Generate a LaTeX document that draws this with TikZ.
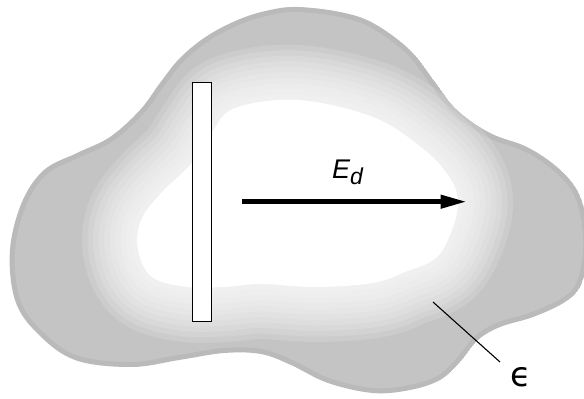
\documentclass[tikz,border=0pt]{standalone}
\usepackage{fontspec}
\newfontfamily\labfont{Liberation Sans}
\newfontfamily\symfont{DejaVu Sans}
\usetikzlibrary{arrows.meta}
\begin{document}
\begin{tikzpicture}[x=1pt,y=-1pt,
  cloudout/.style={insert path={plot[smooth cycle,tension=0.6] coordinates {
    (298,7) (340,12) (373,23) (410,50) (435,82) (457,110) (490,133) (527,147) (557,167)
    (577,190) (586,218) (588,252) (581,285) (565,302) (533,317) (500,327) (478,340)
    (460,362) (440,380) (410,390) (373,393) (328,383) (291,365) (261,354) (224,353)
    (179,360) (131,367) (75,360) (37,333) (15,300) (10,250) (22,202) (44,170)
    (77,153) (110,137) (140,110) (160,83) (180,58) (207,36) (240,19) (270,10)}}},
  cloudin/.style={insert path={plot[smooth cycle,tension=0.6] coordinates {
    (298,100) (373,117) (422,148) (448,175) (458,200) (452,230) (436,258)
    (405,272) (373,283) (317,287) (261,284) (224,287) (187,287) (152,277)
    (138,250) (141,220) (162,192) (190,165) (212,132) (235,108)}}},
  lead/.style={line width=1.1pt}
]
\useasboundingbox (0,0) rectangle (584,399);
\begin{scope}
  \clip[cloudout];
  \fill[black!23, cloudout];
  \draw[black, opacity=0.05, line width=10pt, cloudout];
  \foreach \w in {110,99,...,11}
    \draw[white, opacity=0.14, line width=\w pt, cloudin];
  \fill[white, cloudin];
\end{scope}
\node[draw, line width=1.5pt, fill=white, minimum width=19pt, minimum height=239pt, inner sep=0pt] (bar) at (202,202) {};
\coordinate (a0) at (242,201.7);
\coordinate (a1) at (466.5,201.7);
\draw[line width=4.5pt, -{Triangle[length=26pt,width=13pt]}] (a0) -- (a1);
\node[font=\labfont\itshape\fontsize{27}{30}\selectfont, anchor=base west, inner sep=0pt] (Ed) at (332,178)
  {E\raisebox{-6pt}{\fontsize{23}{25}\selectfont d}};
\coordinate (e0) at (433,302);
\coordinate (e1) at (500,362);
\draw[lead] (e0) -- (e1);
\node[font=\symfont\fontsize{34}{36}\selectfont, inner sep=0pt] (eps) at (521,377) {ϵ};
\end{tikzpicture}
\end{document}
